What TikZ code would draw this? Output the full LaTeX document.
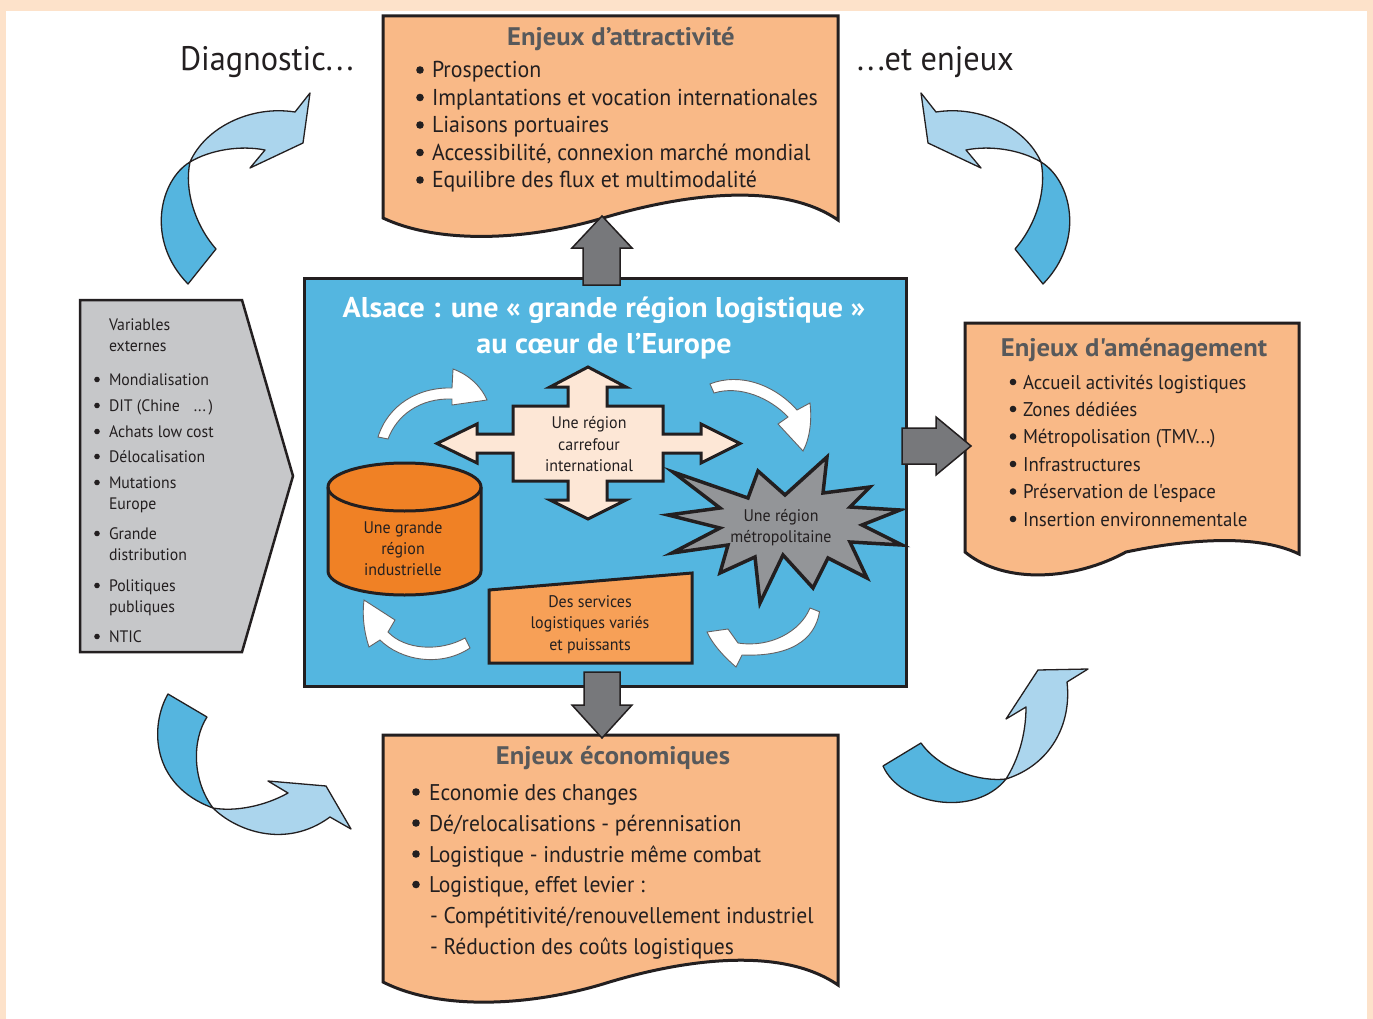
\documentclass[tikz,border=0pt]{standalone}
\usepackage{fontspec}
\setmainfont{PT Sans}[FakeStretch=0.95, Ligatures=TeXOff, BoldFeatures={FakeStretch=1.05}]
\definecolor{peach}{HTML}{FDE2CA}
\definecolor{dk}{HTML}{231F20}
\definecolor{ttl}{HTML}{58595B}
\definecolor{obox}{HTML}{F9B987}
\definecolor{bluebox}{HTML}{54B6E0}
\definecolor{garrow}{HTML}{77787B}
\definecolor{pent}{HTML}{C6C7C9}
\definecolor{crossc}{HTML}{FDE7D6}
\definecolor{cyl}{HTML}{F08125}
\definecolor{trap}{HTML}{F7A057}
\definecolor{starc}{HTML}{939598}
\definecolor{ribdark}{HTML}{55B5DF}
\definecolor{riblight}{HTML}{ABD5ED}
\newcommand{\fs}[2]{\fontsize{#1}{#2}\selectfont}
\begin{document}
\begin{tikzpicture}[x=1pt,y=-1pt,
  enjbox/.style={draw=dk, line width=3pt, fill=obox, line join=miter},
  garr/.style={draw=dk, line width=1.5pt, fill=garrow},
  ribd/.style={draw=dk, line width=1.3pt, fill=ribdark, line join=round},
  ribl/.style={draw=dk, line width=1.3pt, fill=riblight, line join=round},
  warr/.style={draw=dk!70, line width=0.9pt, fill=white},
  bulletdot/.style={fill=dk},
  txt/.style={inner sep=0pt, outer sep=0pt, text=dk, anchor=base west},
  ctxt/.style={inner sep=0pt, outer sep=0pt, text=dk, anchor=base},
  ttxt/.style={inner sep=0pt, outer sep=0pt, text=ttl, anchor=base, font=\bfseries\fs{25.4}{30}},
  big/.style={font=\fs{23}{27}},
  mid/.style={font=\fs{19.9}{24}},
  bot/.style={font=\fs{22.7}{27}},
  sml/.style={font=\fs{16.6}{20}},
  lab/.style={font=\fs{16.8}{20}}
]
\useasboundingbox (0,0) rectangle (1373,1019);
\fill[peach] (0,0) rectangle (1373,1019);
\fill[white] (6,11) rectangle (1367,1019);

% top-left ribbon arrow
\draw[ribd] (190,162) .. controls (160,180) and (145,240) .. (188,284) -- (216,249) .. controls (195,225) and (184,190) .. (190,162) -- cycle;
\draw[ribl] (190,162) .. controls (205,128) and (250,105) .. (295,112) -- (310,93) -- (303,143) -- (250,168) -- (265,150) .. controls (240,145) and (210,150) .. (190,162) -- cycle;
% top-right ribbon arrow
\draw[ribd] (1041,162) .. controls (1071,180) and (1086,240) .. (1043,284) -- (1015,249) .. controls (1036,225) and (1047,190) .. (1041,162) -- cycle;
\draw[ribl] (1041,162) .. controls (1026,128) and (981,105) .. (936,112) -- (921,93) -- (928,143) -- (981,168) -- (966,150) .. controls (991,145) and (1021,150) .. (1041,162) -- cycle;
% bottom-left ribbon arrow
\draw[ribd] (168,694) .. controls (150,725) and (150,785) .. (213,808) .. controls (192,780) and (192,740) .. (207,717) -- cycle;
\draw[ribl] (213,808) .. controls (235,830) and (285,850) .. (330,817) -- (351,829) -- (326,786) -- (268,781) -- (288,793) .. controls (265,806) and (235,812) .. (213,808) -- cycle;
% bottom-right ribbon arrow
\draw[ribd] (883,766) .. controls (900,805) and (975,818) .. (1006,779) .. controls (980,782) and (940,770) .. (921,743) -- cycle;
\draw[ribl] (1006,779) .. controls (1050,765) and (1072,725) .. (1067,682) -- (1088,669) -- (1038,670) -- (1006,719) -- (1026,707) .. controls (1026,735) and (1018,760) .. (1006,779) -- cycle;

% side labels
\node[txt, font=\fs{34}{38}] (diag) at (180,71) {Diagnostic.\kern3.5pt.\kern3.5pt.};
\node[txt, font=\fs{34}{38}] (etenj) at (857,71) {.\kern3.5pt.\kern3.5pt.et enjeux};

% top box
\draw[enjbox] (383,16) -- (838,16) -- (838,220) .. controls (780,180) and (680,195) .. (603,218) .. controls (530,240) and (440,245) .. (383,218) -- cycle;
\node[ttxt] (attr) at (621,46) {Enjeux d’attractivité};
\node[txt, big] (a1) at (432,78) {Prospection};
\node[txt, big] (a2) at (432,105.5) {Implantations et vocation internationales};
\node[txt, big] (a3) at (432,133) {Liaisons portuaires};
\node[txt, big] (a4) at (432,160.5) {Accessibilité, connexion marché mondial};
\node[txt, big] (a5) at (432,188) {Equilibre des flux et multimodalité};
\foreach \yy in {78,105.5,133,160.5,188} \fill[bulletdot] (420,\yy-8) circle (3.8pt);

% right box
\draw[enjbox] (965,323) -- (1299,323) -- (1299,554) .. controls (1256,533) and (1183,540) .. (1126,552) .. controls (1075,580) and (1005,585) .. (965,552) -- cycle;
\node[ttxt] (amen) at (1134,356) {Enjeux d'aménagement};
\node[txt, mid] (r1) at (1023,389) {Accueil activités logistiques};
\node[txt, mid] (r2) at (1023,416) {Zones dédiées};
\node[txt, mid] (r3) at (1023,443.5) {Métropolisation (TMV...)};
\node[txt, mid] (r4) at (1023,471) {Infrastructures};
\node[txt, mid] (r5) at (1023,498.5) {Préservation de l'espace};
\node[txt, mid] (r6) at (1023,526) {Insertion environnementale};
\foreach \yy in {389,416,443.5,471,498.5,526} \fill[bulletdot] (1013,\yy-7) circle (3.3pt);

% bottom box
\draw[enjbox] (383,735) -- (838,735) -- (838,985) .. controls (780,945) and (680,960) .. (603,984) .. controls (530,1006) and (440,1011) .. (383,982) -- cycle;
\node[ttxt] (econ) at (613,764) {Enjeux économiques};
\node[txt, bot] (b1) at (429,800) {Economie des changes};
\node[txt, bot] (b2) at (429,831) {Dé/relocalisations - pérennisation};
\node[txt, bot] (b3) at (429,862) {Logistique - industrie même combat};
\node[txt, bot] (b4) at (429,892.5) {Logistique, effet levier :};
\node[txt, bot] (b5) at (430,923.5) {- Compétitivité/renouvellement industriel};
\node[txt, bot] (b6) at (430,954) {- Réduction des coûts logistiques};
\foreach \yy in {800,831,862,892.5} \fill[bulletdot] (416,\yy-8) circle (3.8pt);

% left pentagon
\draw[draw=dk, line width=2.5pt, fill=pent] (80,300) -- (242,300) -- (293,476) -- (242,652) -- (80,652) -- cycle;
\node[txt, sml] (p0) at (109,330) {Variables};
\node[txt, sml] (p0b) at (109,351) {externes};
\node[txt, sml] (p1) at (109,385) {Mondialisation};
\node[txt, sml] (p2) at (109,411) {DIT (Chine\hspace{14pt}...\,)};
\node[txt, sml] (p3) at (109,437) {Achats low cost};
\node[txt, sml] (p4) at (109,462) {Délocalisation};
\node[txt, sml] (p5) at (109,488) {Mutations};
\node[txt, sml] (p5b) at (109,509) {Europe};
\node[txt, sml] (p6) at (109,539) {Grande};
\node[txt, sml] (p6b) at (109,560) {distribution};
\node[txt, sml] (p7) at (109,591) {Politiques};
\node[txt, sml] (p7b) at (109,612) {publiques};
\node[txt, sml] (p8) at (109,642) {NTIC};
\foreach \yy in {385,411,437,462,488,539,591,642} \fill[bulletdot] (97,\yy-5.5) circle (2.8pt);

% central blue box
\draw[draw=dk, line width=3pt, fill=bluebox] (304,278) rectangle (906,686);
\node[inner sep=0pt, anchor=base, text=white, font=\bfseries\fs{28.6}{33}] (t1) at (604,317) {Alsace : une « grande région logistique »};
\node[inner sep=0pt, anchor=base, text=white, font=\bfseries\fs{28.6}{33}] (t2) at (604,353) {au cœur de l’Europe};

% grey block arrows
\draw[garr] (583,285) -- (583,248) -- (572,248) -- (602,216) -- (632,248) -- (620,248) -- (620,285) -- cycle;
\draw[garr] (902,428) -- (936,428) -- (936,417) -- (971,446) -- (936,475) -- (936,464) -- (902,464) -- cycle;
\draw[garr] (584,672) -- (620,672) -- (620,705) -- (632,705) -- (602,738) -- (572,705) -- (584,705) -- cycle;

% cross
\draw[draw=dk, line width=3pt, fill=crossc, line join=miter]
  (588,367) -- (626,387) -- (607,387) -- (607,406) -- (663,406) -- (663,434) -- (701,434) -- (701,424) -- (740,443.5) -- (701,463) -- (701,453) -- (663,453) -- (663,481) -- (607,481) -- (607,500) -- (626,500) -- (588,519) -- (550,500) -- (568,500) -- (568,481) -- (513,481) -- (513,453) -- (477,453) -- (477,463) -- (437,443.5) -- (477,424) -- (477,434) -- (513,434) -- (513,406) -- (568,406) -- (568,387) -- (550,387) -- cycle;
\node[ctxt, lab] (c1) at (589,428) {Une région};
\node[ctxt, lab] (c2) at (589,450) {carrefour};
\node[ctxt, lab] (c3) at (589,471) {international};

% cylinder
\draw[draw=dk, line width=3pt, fill=cyl]
  (328,487) -- (328,571) .. controls (328,584.3) and (362.25,595) .. (404.5,595) .. controls (446.75,595) and (481,584.3) .. (481,571) -- (481,487) .. controls (481,473.7) and (446.75,463) .. (404.5,463) .. controls (362.25,463) and (328,473.7) .. (328,487) -- cycle;
\draw[draw=dk, line width=3pt] (328,487) .. controls (328,500.3) and (362.25,511) .. (404.5,511) .. controls (446.75,511) and (481,500.3) .. (481,487);
\node[ctxt, lab] (y1) at (403,533) {Une grande};
\node[ctxt, lab] (y2) at (403,554) {région};
\node[ctxt, lab] (y3) at (403,575) {industrielle};

% star
\draw[draw=dk, line width=3.5pt, fill=starc, line join=miter]
  (673,472) -- (748,498) -- (758,471) -- (785,495) -- (827,457) -- (823,493) -- (870,487) -- (850,507) -- (900,510) -- (862,525) -- (902,545) -- (850,542) -- (867,578) -- (828,558) -- (813,588) -- (783,555) -- (760,603) -- (755,557) -- (720,573) -- (728,545) -- (672,553) -- (720,528) -- (668,515) -- (720,508) -- cycle;
\node[ctxt, lab] (s1) at (781,521) {Une région};
\node[ctxt, lab] (s2) at (781,542) {métropolitaine};

% trapezoid
\draw[draw=dk, line width=3pt, fill=trap] (489,590) -- (692,573) -- (692,663) -- (489,663) -- cycle;
\node[ctxt, lab] (d1) at (590,607) {Des services};
\node[ctxt, lab] (d2) at (590,628) {logistiques variés};
\node[ctxt, lab] (d3) at (590,650) {et puissants};

% white circular arrows
\draw[warr] (378,437) .. controls (388,405) and (418,387) .. (452,388) -- (453,369) .. controls (470,375) and (482,388) .. (487,400) -- (452,405) -- (452,399) .. controls (420,398) and (397,415) .. (388,439) -- cycle;
\draw[warr] (710,384) .. controls (740,372) and (775,385) .. (797,410) -- (810,403) .. controls (812,420) and (810,438) .. (803,451) -- (778,424) -- (788,417) .. controls (770,398) and (740,385) .. (714,393) -- cycle;
\draw[warr] (819.5,611.7) .. controls (815,640) and (790,657) .. (742,655) -- (736,667) .. controls (722,655) and (712,643) .. (707,632) -- (728,629) -- (738,643) .. controls (770,648) and (800,632) .. (810,608) -- cycle;
\draw[warr] (470,648) .. controls (440,668) and (400,660) .. (380,640) -- (369,647) .. controls (364,632) and (362,615) .. (364,600) -- (395,620) -- (388,632) .. controls (405,650) and (440,652) .. (465,638) -- cycle;
\end{tikzpicture}
\end{document}
